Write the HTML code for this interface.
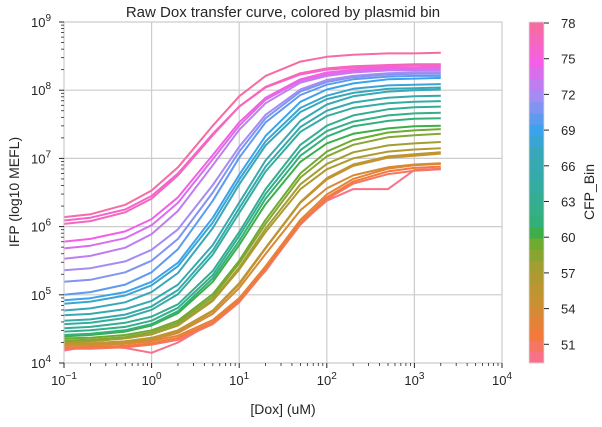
<!DOCTYPE html>
<html><head><meta charset="utf-8">
<style>
body{margin:0;background:#fff;font-family:"Liberation Sans",Arial,sans-serif;}
svg text{font-family:"Liberation Sans",Arial,sans-serif;fill:#262626;}
</style></head>
<body>
<svg id="chart" width="602" height="422" viewBox="0 0 602 422">
<text x="283" y="17" font-size="15" text-anchor="middle">Raw Dox transfer curve, colored by plasmid bin</text>
<g id="grid"></g>
<g id="lines"></g>
<rect x="64" y="22" width="438" height="341" fill="none" stroke="#cccccc" stroke-width="1"/>
<g id="axes"></g>
<text x="283" y="414" font-size="14" text-anchor="middle">[Dox] (uM)</text>
<text x="19" y="192" font-size="14" text-anchor="middle" transform="rotate(-90 19 192)">IFP (log10 MEFL)</text>
<g id="cbar"></g>
<text x="594" y="192" font-size="14" text-anchor="middle" transform="rotate(-90 594 192)">CFP_Bin</text>
</svg>
<script>
const doses = [0.1,0.2,0.5,1,2,5,10,20,50,100,200,500,1000,2000];
const bins = [49,50,51,52,53,54,55,56,57,58,59,60,61,62,63,64,65,66,67,68,69,70,71,72,73,74,75,76,77,78];
const cbarTicks = [51,54,57,60,63,66,69,72,75,78];
const xTicks = [-1,0,1,2,3,4];
const yTicks = [4,5,6,7,8,9];
// log10 IFP values per bin (index = bin - 49)
const s49 = [4.18,4.25,4.22,4.15,4.30,4.60,4.95,5.35,6.05,6.38,6.55,6.55,6.83,6.85];
const s50 = [4.21,4.21,4.23,4.27,4.34,4.57,4.89,5.36,6.03,6.40,6.63,6.77,6.82,6.84];
const s51 = [4.23,4.23,4.25,4.29,4.37,4.60,4.92,5.39,6.06,6.43,6.66,6.81,6.86,6.88];
const s52 = [4.26,4.26,4.28,4.32,4.40,4.63,4.95,5.42,6.10,6.47,6.70,6.85,6.90,6.92];
const s53 = [4.26,4.26,4.29,4.34,4.44,4.72,5.10,5.60,6.24,6.56,6.75,6.87,6.91,6.93];
const s54 = [4.28,4.28,4.31,4.36,4.46,4.76,5.15,5.68,6.35,6.69,6.89,7.01,7.04,7.07];
const s55 = [4.29,4.29,4.32,4.37,4.48,4.77,5.17,5.69,6.36,6.71,6.91,7.03,7.06,7.09];
const s56 = [4.31,4.32,4.36,4.42,4.55,4.91,5.37,5.92,6.55,6.84,7.00,7.10,7.13,7.15];
const s57 = [4.31,4.32,4.36,4.42,4.56,4.93,5.40,5.97,6.62,6.92,7.09,7.19,7.22,7.24];
const s58 = [4.33,4.34,4.38,4.45,4.59,4.97,5.46,6.04,6.72,7.03,7.20,7.31,7.34,7.36];
const s59 = [4.36,4.37,4.41,4.48,4.62,5.01,5.50,6.10,6.78,7.10,7.27,7.38,7.41,7.43];
const s60 = [4.39,4.41,4.46,4.55,4.73,5.19,5.73,6.33,6.95,7.22,7.36,7.44,7.47,7.48];
const s61 = [4.41,4.43,4.48,4.57,4.76,5.24,5.79,6.41,7.04,7.32,7.47,7.55,7.58,7.59];
const s62 = [4.46,4.48,4.53,4.62,4.81,5.29,5.86,6.48,7.12,7.40,7.54,7.63,7.66,7.67];
const s63 = [4.51,4.53,4.59,4.68,4.86,5.35,5.92,6.55,7.20,7.48,7.63,7.72,7.75,7.76];
const s64 = [4.57,4.59,4.66,4.78,5.01,5.59,6.20,6.81,7.39,7.62,7.74,7.81,7.83,7.84];
const s65 = [4.62,4.64,4.71,4.83,5.07,5.65,6.27,6.88,7.46,7.70,7.82,7.89,7.91,7.92];
const s66 = [4.70,4.72,4.79,4.91,5.15,5.73,6.35,6.97,7.55,7.79,7.91,7.98,8.00,8.01];
const s67 = [4.77,4.80,4.89,5.04,5.32,5.98,6.62,7.19,7.68,7.87,7.96,8.02,8.03,8.04];
const s68 = [4.87,4.90,4.99,5.14,5.42,6.06,6.69,7.25,7.74,7.92,8.02,8.07,8.08,8.09];
const s69 = [4.92,4.95,5.04,5.19,5.47,6.13,6.76,7.33,7.83,8.01,8.10,8.16,8.17,8.18];
const s70 = [5.00,5.04,5.15,5.33,5.67,6.38,7.01,7.53,7.93,8.08,8.16,8.20,8.21,8.21];
const s71 = [5.19,5.22,5.33,5.50,5.82,6.50,7.10,7.59,7.98,8.12,8.19,8.23,8.24,8.24];
const s72 = [5.36,5.39,5.49,5.66,5.96,6.61,7.17,7.64,8.01,8.15,8.21,8.25,8.26,8.26];
const s73 = [5.53,5.57,5.69,5.89,6.23,6.90,7.42,7.81,8.11,8.21,8.26,8.29,8.29,8.29];
const s74 = [5.68,5.72,5.83,6.02,6.35,6.99,7.48,7.86,8.14,8.23,8.28,8.31,8.31,8.32];
const s75 = [5.78,5.82,5.93,6.11,6.43,7.05,7.53,7.89,8.16,8.26,8.30,8.33,8.33,8.34];
const s76 = [6.09,6.13,6.25,6.45,6.78,7.36,7.76,8.04,8.23,8.30,8.33,8.35,8.36,8.36];
const s77 = [6.04,6.08,6.21,6.41,6.75,7.34,7.76,8.05,8.25,8.32,8.35,8.37,8.38,8.38];
const s78 = [6.14,6.18,6.32,6.53,6.87,7.48,7.91,8.21,8.42,8.49,8.52,8.54,8.54,8.55];
const series = [s49,s50,s51,s52,s53,s54,s55,s56,s57,s58,s59,s60,s61,s62,s63,s64,s65,s66,s67,s68,s69,s70,s71,s72,s73,s74,s75,s76,s77,s78];

const NS='http://www.w3.org/2000/svg';
const PX0=64,PX1=502,PY0=363,PY1=22;
function xScale(v){return PX0+(Math.log10(v)+1)/5*(PX1-PX0);}
function xLog(l){return PX0+(l+1)/5*(PX1-PX0);}
function yLog(l){return PY0-(l-4)/5*(PY0-PY1);}
const CB0=49,CB1=78,CBT=22,CBB=363;
const stops=[[49,'#f77189'],[51,'#f27a3a'],[54,'#c89233'],[57,'#a39e31'],[59,'#6fab31'],[60,'#3daf4a'],[61,'#33b07a'],[64,'#35aca0'],[67,'#38a7b8'],[69,'#3ba3ec'],[72,'#a48cf4'],[75,'#f45fe6'],[78,'#f66ba4']];
function hex(c){return [1,3,5].map(i=>parseInt(c.substr(i,2),16));}
function color(b){
  for(let i=0;i<stops.length-1;i++){
    const a=stops[i],c=stops[i+1];
    if(b>=a[0]&&b<=c[0]){const t=(b-a[0])/(c[0]-a[0]);const A=hex(a[1]),C=hex(c[1]);
      return 'rgb('+A.map((v,j)=>Math.round(v+(C[j]-v)*t)).join(',')+')';}
  }
  return stops[stops.length-1][1];
}
function mk(tag,attrs,parent){const e=document.createElementNS(NS,tag);for(const k in attrs)e.setAttribute(k,attrs[k]);parent.appendChild(e);return e;}

const grid=document.getElementById('grid');
xTicks.forEach(l=>{const e=mk('line',{x1:xLog(l),x2:xLog(l),y1:PY1,y2:PY0,stroke:'#cccccc','stroke-width':1.2},grid);

});
yTicks.forEach(l=>{const e=mk('line',{x1:PX0,x2:PX1,y1:yLog(l),y2:yLog(l),stroke:'#cccccc','stroke-width':1.2},grid);

});

const lines=document.getElementById('lines');
series.forEach((s,i)=>{
  const d=s.map((v,j)=>(j?'L':'M')+xScale(doses[j]).toFixed(1)+','+yLog(v).toFixed(1)).join('');
  const p=mk('path',{d:d,fill:'none',stroke:color(bins[i]),'stroke-width':2,'stroke-linejoin':'round'},lines);
  
  
});

const axes=document.getElementById('axes');
xTicks.forEach(l=>{
  mk('line',{x1:xLog(l),x2:xLog(l),y1:PY0,y2:PY0+5,stroke:'#262626','stroke-width':1},axes);
  const t=mk('text',{x:xLog(l),y:PY0+22,'font-size':13,'text-anchor':'middle'},axes);
  
  
  t.innerHTML='10<tspan dy="-6" font-size="10">'+(l<0?'\u22121':l)+'</tspan>';
  if(l<4){for(let m=2;m<10;m++){const x=xLog(l+Math.log10(m));mk('line',{x1:x,x2:x,y1:PY0,y2:PY0+3,stroke:'#262626','stroke-width':0.8},axes);}}
});
yTicks.forEach(l=>{
  mk('line',{x1:PX0-5,x2:PX0,y1:yLog(l),y2:yLog(l),stroke:'#262626','stroke-width':1},axes);
  const t=mk('text',{x:PX0-23,y:yLog(l)+5,'font-size':13,'text-anchor':'middle'},axes);
  
  
  t.innerHTML='10<tspan dy="-6" font-size="10">'+l+'</tspan>';
  if(l<9){for(let m=2;m<10;m++){const y=yLog(l+Math.log10(m));mk('line',{x1:PX0-3,x2:PX0,y1:y,y2:y,stroke:'#262626','stroke-width':0.8},axes);}}
});

const cbar=document.getElementById('cbar');
const bh=(CBB-CBT)/bins.length;
bins.forEach((b,i)=>{
  const r=mk('rect',{x:529,y:(CBT+(CB1-b)*bh).toFixed(2),width:15,height:(bh+0.5).toFixed(2),fill:color(b)},cbar);
  
  
});
mk('rect',{x:529,y:CBT,width:15,height:CBB-CBT,fill:'none',stroke:'#dddddd','stroke-width':0.8},cbar);
cbarTicks.forEach(v=>{
  const y=CBT+(CB1-v)*11.9+1;
  mk('line',{x1:544,x2:549,y1:y,y2:y,stroke:'#262626','stroke-width':1},cbar);
  const t=mk('text',{x:561,y:y+5,'font-size':13},cbar);
  
  
  t.textContent=v;
});
</script>
</body></html>
